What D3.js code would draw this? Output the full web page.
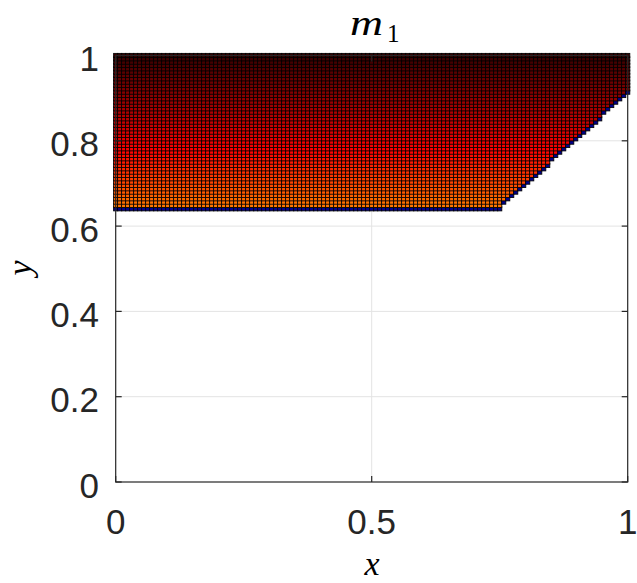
<!DOCTYPE html>
<html>
<head>
<meta charset="utf-8">
<script src="https://cdn.jsdelivr.net/npm/d3@7"></script>
<style>
  html, body { margin: 0; padding: 0; background: #fff; }
  svg { display: block; }
</style>
</head>
<body>
<svg id="chart" width="637" height="583"></svg>
<script>
// ---- data ----
const gridN = 128;                        // grid resolution (points per unit)
const xTicks = [0, 0.5, 1];
const yTicks = [0, 0.2, 0.4, 0.6, 0.8, 1];
const xTickLabels = ["0", "0.5", "1"];
const yTickLabels = ["0", "0.2", "0.4", "0.6", "0.8", "1"];
// lower boundary of the feasible region (x, y pairs)
const boundaryX = [0, 0.75, 1];
const boundaryY = [0.640625, 0.640625, 0.91];
const regionTop = 1;
// colour value (hot colormap position) at the bottom and top of the region
const colourY = [0.640625, 1];
const colourT = [0.56, 0.08];
const boundaryColour = "#00008c";
const titleText = "m";
const titleSub = "1";
const xLabelText = "x";
const yLabelText = "y";

// ---- layout ----
const W = 637, H = 583;
const L = 115.7, R = 627.7, T = 55.5, B = 482;

const svg = d3.select("#chart");
const x = d3.scaleLinear().domain([0, 1]).range([L, R]);
const y = d3.scaleLinear().domain([0, 1]).range([B, T]);
const lower = d3.scaleLinear().domain(boundaryX).range(boundaryY);
const tOf = d3.scaleLinear().domain(colourY).range(colourT);

function hot(t) {
  const c = v => Math.max(0, Math.min(1, v));
  const r = c(t / 0.375), g = c((t - 0.375) / 0.375), b = c((t - 0.75) / 0.25);
  return d3.rgb(r * 255, g * 255, b * 255).toString();
}

// grid lines
const gridColor = "#e3e3e3";
svg.append("g").selectAll("line").data(xTicks.filter(v => v > 0 && v < 1)).join("line")
  .attr("x1", d => x(d)).attr("x2", d => x(d)).attr("y1", T).attr("y2", B)
  .attr("stroke", gridColor).attr("stroke-width", 1);
svg.append("g").selectAll("line").data(yTicks.filter(v => v > 0 && v < 1)).join("line")
  .attr("y1", d => y(d)).attr("y2", d => y(d)).attr("x1", L).attr("x2", R)
  .attr("stroke", gridColor).attr("stroke-width", 1);

// build points
const pts = [];
for (let i = 0; i <= gridN; i++) {
  const xv = i / gridN;
  const lo = lower(xv);
  let first = true;
  for (let j = 0; j <= gridN; j++) {
    const yv = j / gridN;
    if (yv > regionTop + 1e-9) break;
    if (yv < lo - 1e-9) continue;
    pts.push({ x: xv, y: yv, edge: first });
    first = false;
  }
}
pts.sort((a, b) => a.y - b.y);

const ms = 4.2;
svg.append("g").selectAll("rect").data(pts).join("rect")
  .attr("x", d => x(d.x) - ms / 2)
  .attr("y", d => y(d.y) - ms / 2)
  .attr("width", ms).attr("height", ms)
  .attr("fill", d => d.edge ? boundaryColour : hot(tOf(d.y)))
  .attr("stroke", "#000").attr("stroke-width", 0.9).attr("stroke-opacity", 0.95);

// axes box
const axisColor = "#262626";
svg.append("rect").attr("x", L).attr("y", T).attr("width", R - L).attr("height", B - T)
  .attr("fill", "none").attr("stroke", axisColor).attr("stroke-width", 1.2);

// ticks (inward, all four sides)
const tl = 6;
const tg = svg.append("g").attr("stroke", axisColor).attr("stroke-width", 1.2);
xTicks.forEach(v => {
  tg.append("line").attr("x1", x(v)).attr("x2", x(v)).attr("y1", B).attr("y2", B - tl);
  tg.append("line").attr("x1", x(v)).attr("x2", x(v)).attr("y1", T).attr("y2", T + tl);
});
yTicks.forEach(v => {
  tg.append("line").attr("y1", y(v)).attr("y2", y(v)).attr("x1", L).attr("x2", L + tl);
  tg.append("line").attr("y1", y(v)).attr("y2", y(v)).attr("x1", R).attr("x2", R - tl);
});

// tick labels
const tickFont = "'Liberation Sans', Arial, Helvetica, sans-serif";
svg.append("g").selectAll("text").data(xTicks).join("text")
  .attr("x", d => x(d)).attr("y", 534)
  .attr("text-anchor", "middle")
  .attr("font-family", tickFont).attr("font-size", 35).attr("fill", axisColor)
  .text((d, i) => xTickLabels[i]);
svg.append("g").selectAll("text").data(yTicks).join("text")
  .attr("x", 99).attr("y", d => y(d) + 15.5)
  .attr("text-anchor", "end")
  .attr("font-family", tickFont).attr("font-size", 35).attr("fill", axisColor)
  .text((d, i) => yTickLabels[i]);

// title m_1
const serif = "'Liberation Serif', 'Times New Roman', serif";
svg.append("text").attr("x", 350).attr("y", 35)
  .attr("font-family", serif).attr("font-style", "italic").attr("font-size", 36)
  .attr("textLength", 33).attr("lengthAdjust", "spacingAndGlyphs")
  .attr("fill", "#000").text(titleText);
svg.append("text").attr("x", 387).attr("y", 42)
  .attr("font-family", serif).attr("font-size", 25)
  .attr("fill", "#000").text(titleSub);

// axis labels
svg.append("text").attr("x", 372).attr("y", 575).attr("text-anchor", "middle")
  .attr("font-family", serif).attr("font-style", "italic").attr("font-size", 34)
  .attr("fill", "#000").text(xLabelText);
svg.append("text").attr("transform", "translate(31,268) rotate(-90)")
  .attr("text-anchor", "middle")
  .attr("font-family", serif).attr("font-style", "italic").attr("font-size", 34)
  .attr("fill", "#000").text(yLabelText);
</script>
</body>
</html>
